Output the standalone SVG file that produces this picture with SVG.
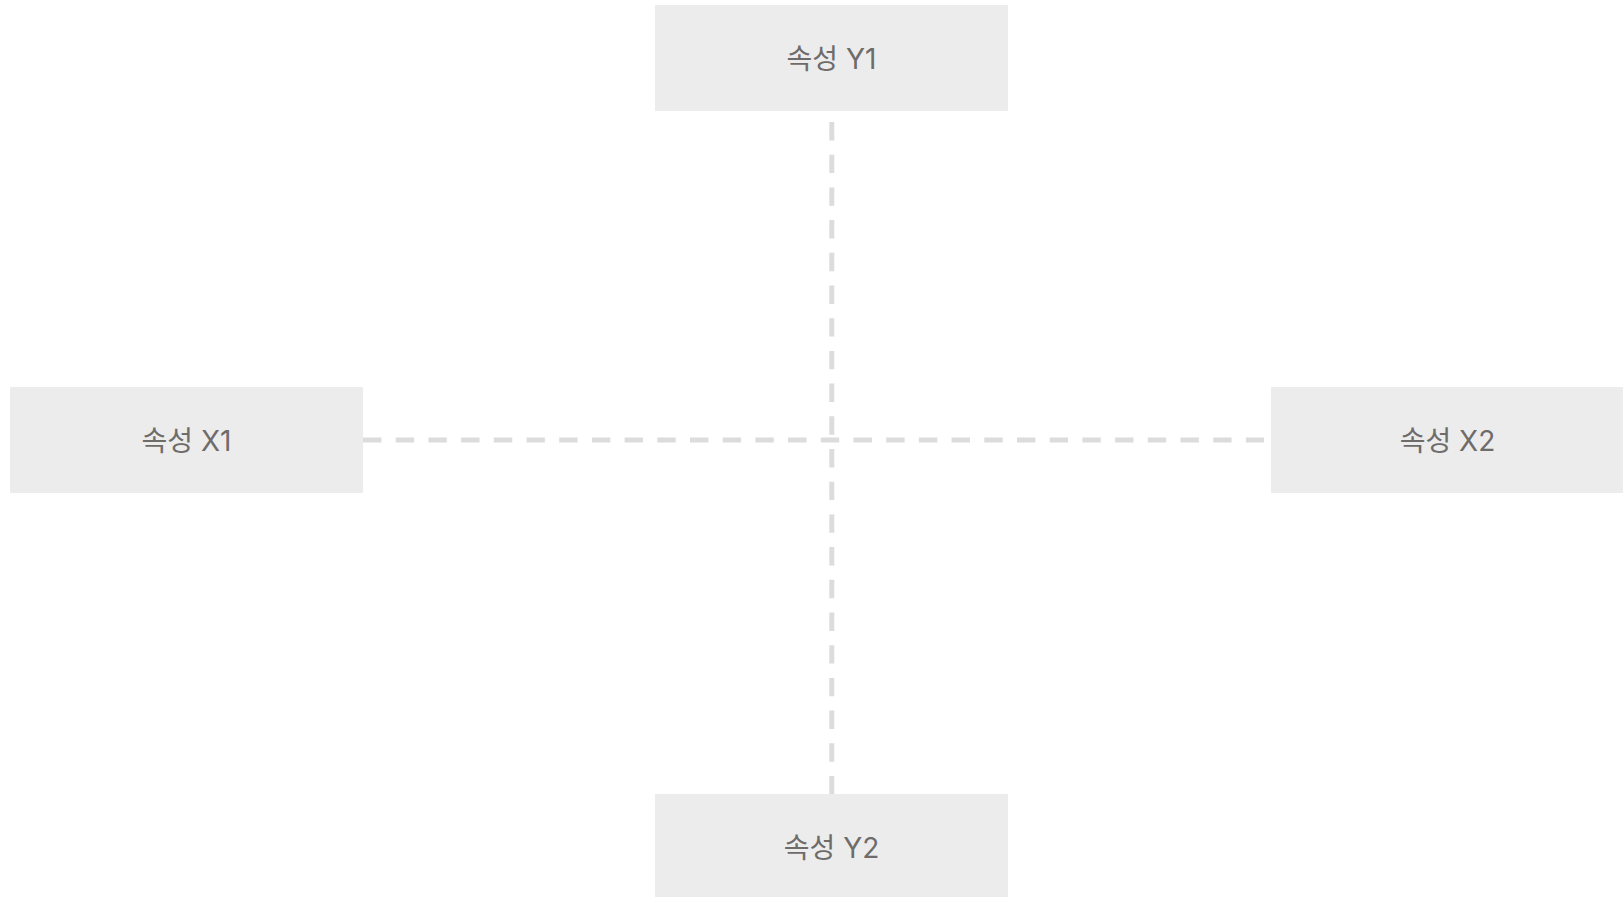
<svg xmlns="http://www.w3.org/2000/svg" width="1623" height="897" viewBox="0 0 1623 897">
<style>
.box{fill:#ececec}
.lbl{font-family:Inter,"Noto Sans CJK KR",sans-serif;font-size:28px;fill:#6e6b6b;text-anchor:middle;dominant-baseline:central}
.conn{stroke:#dcdcdc;stroke-width:5;stroke-dasharray:18.4 14.3;fill:none}
</style>
<rect width="1623" height="897" fill="#ffffff"/>
<g id="connectors">
<line class="conn" x1="363" y1="440" x2="1264" y2="440"/>
<line class="conn" x1="831.8" y1="122" x2="831.8" y2="794"/>
</g>
<g id="node-y1">
<rect class="box" x="655" y="5" width="353" height="106"/>
<text class="lbl" x="831.5" y="59">속성 Y1</text>
</g>
<g id="node-x1">
<rect class="box" x="10" y="387" width="353" height="106"/>
<text class="lbl" x="186.5" y="441">속성 X1</text>
</g>
<g id="node-x2">
<rect class="box" x="1271" y="387" width="353" height="106"/>
<text class="lbl" x="1447.5" y="441">속성 X2</text>
</g>
<g id="node-y2">
<rect class="box" x="655" y="794" width="353" height="106"/>
<text class="lbl" x="831.5" y="848">속성 Y2</text>
</g>
</svg>
